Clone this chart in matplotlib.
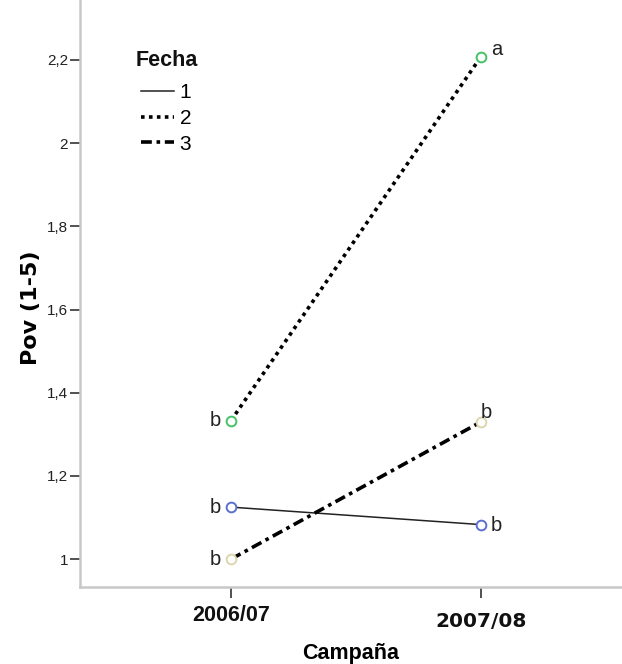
import matplotlib.pyplot as plt
import matplotlib.transforms as mtransforms

# datos
campanas = ['2006/07', '2007/08']
fechas = ['1', '2', '3']
pov_f1 = [1.125, 1.083]
pov_f2 = [1.333, 2.208]
pov_f3 = [1.0, 1.330]
letras_f1 = ['b', 'b']
letras_f2 = ['b', 'a']
letras_f3 = ['b', 'b']

plt.rcParams['font.family'] = ['Liberation Sans', 'DejaVu Sans']

fig = plt.figure(figsize=(6.22, 6.64), dpi=100)
ax = fig.add_axes([80 / 622, 77 / 664, 542 / 622, 587 / 664])

x = [0, 1]
ax.plot(x, pov_f1, color='#222222', lw=1.1, ls='-', label=fechas[0], zorder=2)
ax.plot(x, pov_f2, color='black', lw=2.6, ls=(0, (1, 1.2)), label=fechas[1], zorder=2)
ax.plot(x, pov_f3, color='black', lw=2.6, ls=(0, (3, 1.3, 1, 1.3)), label=fechas[2], zorder=2)

ax.plot(x, pov_f1, 'o', ms=7, mfc='white', mec='#5b70cf', mew=1.4, zorder=3)
ax.plot(x, pov_f2, 'o', ms=7, mfc='white', mec='#45c265', mew=1.4, zorder=3)
ax.plot(x, pov_f3, 'o', ms=7, mfc='white', mec='#dcd6ac', mew=1.4, zorder=3)

# letras de significancia
for serie, letras in [(pov_f1, letras_f1), (pov_f2, letras_f2), (pov_f3, letras_f3)]:
    ax.annotate(letras[0], (x[0], serie[0]), xytext=(-7, 0), textcoords='offset points',
                ha='right', va='center', fontsize=14.5, color='#222222')
ax.annotate(letras_f1[1], (x[1], pov_f1[1]), xytext=(7, -1), textcoords='offset points',
            ha='left', va='center', fontsize=14.5, color='#222222')
ax.annotate(letras_f2[1], (x[1], pov_f2[1]), xytext=(7, 5), textcoords='offset points',
            ha='left', va='center', fontsize=14.5, color='#222222')
ax.annotate(letras_f3[1], (x[1], pov_f3[1]), xytext=(0, 7), textcoords='offset points',
            ha='left', va='center', fontsize=14.5, color='#222222')

ax.set_xlim(-0.604, 1.564)
ax.set_ylim(0.933, 2.344)
ax.set_yticks([1, 1.2, 1.4, 1.6, 1.8, 2, 2.2])
ax.set_yticklabels(['1', '1,2', '1,4', '1,6', '1,8', '2', '2,2'], fontsize=11, color='#222222')
ax.set_xticks(x)
ax.set_xticklabels([])
ax.tick_params(axis='y', length=7, width=1.2, color='#333333', pad=1.5)
ax.tick_params(axis='x', length=8, width=1.2, color='#333333')

# etiquetas de campana (la segunda un poco mas baja, como en el original)
trans = mtransforms.blended_transform_factory(ax.transData, ax.transAxes)
ax.text(x[0], -0.03, campanas[0], transform=trans, ha='center', va='top',
        fontsize=15.5, fontweight='bold', color='#111111')
ax.text(x[1], -0.042, campanas[1], transform=trans, ha='center', va='top',
        fontsize=14.5, fontweight='bold', color='#111111', family='DejaVu Sans')

for s in ['top', 'right']:
    ax.spines[s].set_visible(False)
for s in ['left', 'bottom']:
    ax.spines[s].set_color('#c8c8c8')
    ax.spines[s].set_linewidth(1.8)

ax.set_xlabel('Campaña', fontsize=15.5, fontweight='bold', labelpad=29)
ax.set_ylabel('Pov (1-5)', fontsize=16, fontweight='bold', family='DejaVu Sans')
ax.yaxis.set_label_coords(-0.072, 0.475)

# leyenda: titulo aparte para dejar el hueco del original
fig.text(136 / 622, 1 - 60 / 664, 'Fecha', ha='left', va='center',
         fontsize=15.5, fontweight='bold', color='#111111')
leg = ax.legend(loc='upper left', bbox_to_anchor=(141 / 622, 1 - 83 / 664),
                bbox_transform=fig.transFigure,
                frameon=False, fontsize=15, handlelength=1.6, handletextpad=0.25,
                labelspacing=0.33, borderaxespad=0, borderpad=0)

fig.savefig('out.png', dpi=100)
